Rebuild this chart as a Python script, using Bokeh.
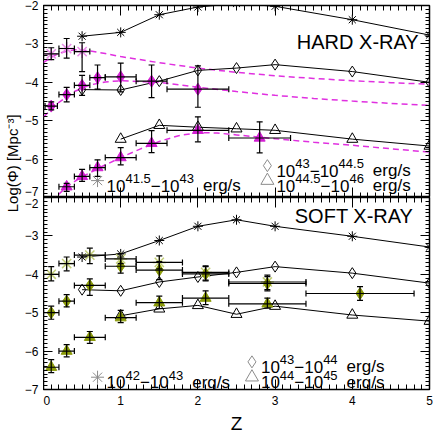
import math
from bokeh.plotting import figure
from bokeh.models import (Range1d, LinearAxis, SingleIntervalTicker, FixedTicker,
                          ColumnDataSource, Whisker, TeeHead, Label)
from bokeh.layouts import row, column
from bokeh.core.properties import value
from bokeh.embed import file_html
from bokeh.resources import INLINE

FONT = "Liberation Sans"

# ---------------- data ----------------
x_ticks = [0, 1, 2, 3, 4, 5]
y_ticks = [-7, -6, -5, -4, -3, -2]

z_mod = [0.5, 1.0, 1.5, 2.0, 2.5, 3.0, 4.0, 5.0]
z_mod_tri = [1.0, 1.5, 2.0, 2.5, 3.0, 4.0, 5.0]

hard_ast_mod = [-2.80, -2.70, -2.24, -2.04, -1.95, -2.02, -2.37, -2.77]
hard_dia_mod = [-4.19, -4.20, -3.97, -3.69, -3.63, -3.54, -3.72, -4.00]
hard_tri_mod = [-5.48, -5.12, -5.17, -5.21, -5.25, -5.48, -5.66]

soft_ast_mod = [-3.55, -3.47, -3.12, -2.75, -2.58, -2.75, -3.01, -3.29]
soft_dia_mod = [-4.40, -4.43, -4.20, -4.07, -3.95, -3.80, -3.97, -4.23]
soft_tri_mod = [-5.08, -4.90, -4.81, -5.04, -4.83, -5.06, -5.22]

# magenta dashed curves (hard X-ray panel)
lf_z = [0.0, 0.2, 0.4, 0.6, 0.8, 1.0, 1.5, 2.0, 2.5, 3.0, 3.5, 4.0, 4.5, 5.0]
lf_hi = [-3.48, -3.24, -3.15, -3.18, -3.25, -3.33, -3.49, -3.63, -3.74, -3.83, -3.90, -3.96, -4.01, -4.05]
lf_mid = [-4.90, -4.52, -4.24, -4.07, -3.99, -3.96, -4.00, -4.13, -4.24, -4.34, -4.42, -4.49, -4.55, -4.60]
lf_lo_z = [0.1, 0.3, 0.5, 0.75, 1.0, 1.25, 1.5, 1.75, 2.0, 2.25, 2.5, 3.0, 3.5, 4.0, 4.5, 5.0]
lf_lo = [-7.10, -6.72, -6.46, -6.20, -5.96, -5.74, -5.54, -5.39, -5.31, -5.32, -5.37, -5.47, -5.56, -5.64, -5.73, -5.82]

# hard X-ray data points
h_ast_z = [0.10, 0.30, 0.50]
h_ast_y = [-3.26, -3.12, -3.20]
h_ast_ylo = [-3.41, -3.37, -3.72]
h_ast_yhi = [-3.10, -2.86, -2.97]
h_ast_zlo = [0.00, 0.20, 0.40]
h_ast_zhi = [0.20, 0.40, 0.60]

h_dia_z = [0.10, 0.30, 0.50, 0.70, 1.00, 1.40, 2.00]
h_dia_y = [-4.62, -4.32, -4.08, -3.88, -3.86, -3.97, -4.18]
h_dia_ylo = [-4.72, -4.51, -4.34, -4.18, -4.25, -4.40, -4.65]
h_dia_yhi = [-4.51, -4.13, -3.82, -3.55, -3.50, -3.55, -3.57]
h_dia_zlo = [0.02, 0.20, 0.40, 0.60, 0.80, 1.20, 1.60]
h_dia_zhi = [0.18, 0.40, 0.60, 0.80, 1.20, 1.60, 2.40]

h_tri_z = [0.30, 0.50, 0.70, 1.00, 1.40, 2.00, 2.80]
h_tri_y = [-6.72, -6.45, -6.22, -5.96, -5.59, -5.25, -5.45]
h_tri_ylo = [-6.84, -6.58, -6.45, -6.15, -5.83, -5.55, -5.84]
h_tri_yhi = [-6.63, -6.27, -6.02, -5.70, -5.26, -4.90, -5.03]
h_tri_zlo = [0.20, 0.40, 0.60, 0.80, 1.20, 1.60, 2.40]
h_tri_zhi = [0.40, 0.60, 0.80, 1.20, 1.60, 2.40, 3.20]

# soft X-ray data points
s_ast_z = [0.10, 0.30, 0.60, 1.00, 1.50, 2.10, 2.90]
s_ast_y = [-4.00, -3.72, -3.50, -3.60, -3.69, -3.95, -4.20]
s_ast_ylo = [-4.17, -3.91, -3.72, -3.72, -3.86, -4.15, -4.40]
s_ast_yhi = [-3.80, -3.55, -3.32, -3.46, -3.52, -3.78, -4.02]
s_ast_zlo = [0.00, 0.20, 0.40, 0.80, 1.20, 1.80, 2.40]
s_ast_zhi = [0.20, 0.40, 0.80, 1.20, 1.80, 2.40, 3.40]

s_dia_z = [0.10, 0.30, 0.60, 1.00, 1.50, 2.10, 2.90, 4.10]
s_dia_y = [-5.00, -4.70, -4.29, -3.79, -3.89, -3.99, -4.24, -4.50]
s_dia_ylo = [-5.17, -4.85, -4.55, -3.97, -4.14, -4.17, -4.43, -4.68]
s_dia_yhi = [-4.83, -4.53, -4.12, -3.55, -3.67, -3.80, -4.06, -4.32]
s_dia_zlo = [0.00, 0.20, 0.40, 0.80, 1.20, 1.80, 2.40, 3.40]
s_dia_zhi = [0.20, 0.40, 0.80, 1.20, 1.80, 2.40, 3.40, 4.80]

s_tri_z = [0.10, 0.30, 0.60, 1.00, 1.50, 2.10, 2.90]
s_tri_y = [-6.42, -6.00, -5.64, -5.13, -4.74, -4.62, -4.77]
s_tri_ylo = [-6.56, -6.15, -5.80, -5.26, -4.89, -4.79, -4.88]
s_tri_yhi = [-6.22, -5.83, -5.49, -4.94, -4.57, -4.43, -4.62]
s_tri_zlo = [0.00, 0.20, 0.40, 0.80, 1.20, 1.80, 2.40]
s_tri_zhi = [0.20, 0.40, 0.80, 1.20, 1.80, 2.40, 3.40]

# legend texts (pieces: text, superscript?)
hard_leg = [
    ("asterisk", 0.70, -6.56, [("10", 0), ("41.5", 1), ("−10", 0), ("43", 1), ("erg/s", 0)]),
    ("diamond", 2.90, -6.17, [("10", 0), ("43", 1), ("−10", 0), ("44.5", 1), ("erg/s", 0)]),
    ("triangle", 2.90, -6.56, [("10", 0), ("44.5", 1), ("−10", 0), ("46", 1), ("erg/s", 0)]),
]
soft_leg = [
    ("asterisk", 0.70, -6.68, [("10", 0), ("42", 1), ("−10", 0), ("43", 1), ("erg/s", 0)]),
    ("diamond", 2.70, -6.28, [("10", 0), ("43", 1), ("−10", 0), ("44", 1), ("erg/s", 0)]),
    ("triangle", 2.70, -6.68, [("10", 0), ("44", 1), ("−10", 0), ("45", 1), ("erg/s", 0)]),
]

# ---------------- styling ----------------
MAG = "#d21ed2"
MAG_DASH = "#e030e0"
MAG_LIGHT = "#e88ce8"
OLV = "#8a9a08"
OLV_LIGHT = "#c4cf78"
GRAY = "#8c8c8c"

W = {'0': .556, '1': .556, '2': .556, '3': .556, '4': .556, '5': .556, '6': .556,
     '7': .556, '8': .556, '9': .556, '.': .278, '−': .584, ' ': .278,
     'e': .556, 'r': .333, 'g': .556, '/': .278, 's': .5}
MAIN_FS, SUP_FS = 17, 13
FRAME_W, FRAME_H = 386, 192
TOP_B, BOT_B = 5, 47
TOTAL_H = TOP_B + 2 * FRAME_H + BOT_B


def text_width(t, fs):
    return sum(W.get(c, 0.55) for c in t) * fs


def style_axis(ax, major_in, minor_in, ticks, loc, labels=None):
    ax.ticker = SingleIntervalTicker(interval=1, num_minor_ticks=10)
    ax.fixed_location = loc
    ax.major_tick_in = major_in
    ax.major_tick_out = 0
    ax.minor_tick_in = minor_in
    ax.minor_tick_out = 0
    ax.axis_line_color = None
    ax.major_tick_line_color = "black"
    ax.minor_tick_line_color = "black"
    ax.major_tick_line_width = 1
    ax.minor_tick_line_width = 1
    if labels is None:
        ax.major_label_text_font_size = "0px"
        ax.major_label_standoff = 0
        ax.major_label_overrides = {t: "" for t in ticks}
    else:
        ax.major_label_text_font = FONT
        ax.major_label_text_font_size = "12px"
        ax.major_label_text_color = "black"
        ax.major_label_standoff = 4
        ax.major_label_overrides = labels


def make_panel(btop, bbot, x_labels=None):
    p = figure(width=FRAME_W + 7, height=FRAME_H + btop + bbot,
               x_range=Range1d(0, 5), y_range=Range1d(-7, -2),
               x_axis_type=None, y_axis_type=None, toolbar_location=None,
               output_backend="svg", min_border_left=0, min_border_right=7,
               min_border_top=btop, min_border_bottom=bbot,
               background_fill_color="white", border_fill_color="white")
    p.outline_line_color = "black"
    p.outline_line_width = 1.5
    ax = LinearAxis()
    style_axis(ax, 10, 5, x_ticks, None if x_labels else -7, x_labels)
    p.add_layout(ax, "below")
    ax = LinearAxis()
    style_axis(ax, 10, 5, x_ticks, -2)
    p.add_layout(ax, "above")
    ax = LinearAxis()
    style_axis(ax, 9, 4, y_ticks, 0)
    p.add_layout(ax, "left")
    ax = LinearAxis()
    style_axis(ax, 9, 4, y_ticks, 5)
    p.add_layout(ax, "right")
    return p


def add_errorbars(p, z, y, ylo, yhi, zlo, zhi):
    src = ColumnDataSource(dict(z=z, y=y, ylo=ylo, yhi=yhi, zlo=zlo, zhi=zhi))
    for base, lo, hi, dim in (("z", "ylo", "yhi", "height"), ("y", "zlo", "zhi", "width")):
        w = Whisker(source=src, base=base, lower=lo, upper=hi, dimension=dim,
                    line_color="black", line_width=1.2, level="annotation",
                    lower_head=TeeHead(size=6, line_color="black", line_width=1.2),
                    upper_head=TeeHead(size=6, line_color="black", line_width=1.2))
        p.add_layout(w)


def add_models(p, ast, dia, tri):
    p.line(z_mod, ast, line_color="black", line_width=1)
    p.scatter(z_mod, ast, marker="asterisk", size=10, line_color="black", line_width=1)
    p.line(z_mod, dia, line_color="black", line_width=1)
    p.scatter(z_mod, dia, marker="diamond", size=11, fill_color=None, line_color="black", line_width=1)
    p.line(z_mod_tri, tri, line_color="black", line_width=1)
    p.scatter(z_mod_tri, tri, marker="triangle", size=11, fill_color=None, line_color="black", line_width=1)


def add_legend(p, items):
    rows = dict(x=[], y=[], xo=[], yo=[], t=[], fs=[])
    for marker, x, y, parts in items:
        if marker == "diamond":
            p.scatter([x], [y], marker="diamond", size=12, fill_color=None, line_color=GRAY, line_width=1)
        elif marker == "triangle":
            p.scatter([x], [y], marker="triangle", size=13, fill_color=None, line_color=GRAY, line_width=1)
        else:
            p.scatter([x], [y], marker="asterisk", size=13, line_color=GRAY, line_width=1)
        cur = 9.0
        for t, sup in parts:
            if t == "erg/s":
                cur += 9
            fs = SUP_FS if sup else MAIN_FS
            rows["x"].append(x)
            rows["y"].append(y)
            rows["xo"].append(cur)
            rows["yo"].append(-2 if sup else 5)
            rows["t"].append(t)
            rows["fs"].append(f"{fs}px")
            cur += text_width(t, fs)
    src = ColumnDataSource(rows)
    p.text(x="x", y="y", x_offset="xo", y_offset="yo", text="t", text_font_size="fs",
           text_font=value(FONT), text_color="black", text_baseline="alphabetic",
           text_align="left", source=src)


# ---------------- top panel (HARD X-RAY) ----------------
p1 = make_panel(TOP_B, 0)
for zz, yy in ((lf_z, lf_hi), (lf_z, lf_mid), (lf_lo_z, lf_lo)):
    p1.line(zz, yy, line_color=MAG_DASH, line_width=1.5, line_dash="6 4")
add_models(p1, hard_ast_mod, hard_dia_mod, hard_tri_mod)
p1.scatter(h_ast_z, h_ast_y, marker="asterisk", size=13, line_color=MAG_LIGHT, line_width=1.5)
p1.scatter(h_dia_z, h_dia_y, marker="diamond", size=12, fill_color=MAG, line_color=MAG)
p1.scatter(h_tri_z, h_tri_y, marker="triangle", size=11, fill_color=MAG, line_color=MAG)
add_errorbars(p1, h_ast_z, h_ast_y, h_ast_ylo, h_ast_yhi, h_ast_zlo, h_ast_zhi)
add_errorbars(p1, h_dia_z, h_dia_y, h_dia_ylo, h_dia_yhi, h_dia_zlo, h_dia_zhi)
add_errorbars(p1, h_tri_z, h_tri_y, h_tri_ylo, h_tri_yhi, h_tri_zlo, h_tri_zhi)
add_legend(p1, hard_leg)
p1.add_layout(Label(x=4.86, y=-2.96, text="HARD X-RAY", text_align="right",
                    text_baseline="alphabetic", text_font=FONT, text_font_size="20px",
                    text_color="black"))

# ---------------- bottom panel (SOFT X-RAY) ----------------
p2 = make_panel(0, BOT_B, {t: str(t) for t in x_ticks})
xb = p2.below[0]
xb.major_label_standoff = 6
xb.axis_label = "Z"
xb.axis_label_text_font = FONT
xb.axis_label_text_font_size = "19px"
xb.axis_label_text_font_style = "normal"
xb.axis_label_text_color = "black"
xb.axis_label_standoff = 5

add_models(p2, soft_ast_mod, soft_dia_mod, soft_tri_mod)
p2.scatter(s_ast_z, s_ast_y, marker="asterisk", size=13, line_color=OLV_LIGHT, line_width=1.5)
p2.scatter(s_dia_z, s_dia_y, marker="diamond", size=12, fill_color=OLV, line_color=OLV)
p2.scatter(s_tri_z, s_tri_y, marker="triangle", size=11, fill_color=OLV, line_color=OLV)
add_errorbars(p2, s_ast_z, s_ast_y, s_ast_ylo, s_ast_yhi, s_ast_zlo, s_ast_zhi)
add_errorbars(p2, s_dia_z, s_dia_y, s_dia_ylo, s_dia_yhi, s_dia_zlo, s_dia_zhi)
add_errorbars(p2, s_tri_z, s_tri_y, s_tri_ylo, s_tri_yhi, s_tri_zlo, s_tri_zhi)
add_legend(p2, soft_leg)
p2.add_layout(Label(x=4.79, y=-2.47, text="SOFT X-RAY", text_align="right",
                    text_baseline="alphabetic", text_font=FONT, text_font_size="20px",
                    text_color="black"))

# ---------------- left strip: y tick labels of both panels + y title ----------------
# both panels stacked in one coordinate: top panel as is, bottom panel shifted by -5
ppu = FRAME_H / 5.0
lf = figure(width=43, height=TOTAL_H,
            x_range=Range1d(0, 43),
            y_range=Range1d(-12 - BOT_B / ppu, -2 + TOP_B / ppu),
            x_axis_type=None, y_axis_type=None, toolbar_location=None,
            output_backend="svg", min_border=0, outline_line_color=None,
            background_fill_color="white", border_fill_color="white")
tick_pos, tick_lab = [], {}
for t in y_ticks:
    pos = t + (0.15 if t == -7 else 0.0)
    tick_pos.append(pos)
    tick_lab[pos] = "−" + str(abs(t))
for t in y_ticks:
    pos = t - 5 - (0.15 if t == -2 else 0.0)
    tick_pos.append(pos)
    tick_lab[pos] = "−" + str(abs(t))
ya = LinearAxis(ticker=FixedTicker(ticks=tick_pos, minor_ticks=[]), fixed_location=40)
ya.major_tick_in = 0
ya.major_tick_out = 0
ya.minor_tick_in = 0
ya.minor_tick_out = 0
ya.axis_line_color = None
ya.major_tick_line_color = None
ya.major_label_standoff = 2
ya.major_label_text_font = FONT
ya.major_label_text_font_size = "12px"
ya.major_label_text_color = "black"
ya.major_label_overrides = tick_lab
lf.add_layout(ya, "left")
lf.add_layout(Label(x=12, y=-6.11, text="Log(Φ) [Mpc⁻³]", angle=math.pi / 2,
                    text_align="center", text_baseline="middle", text_font=FONT,
                    text_font_size="15px", text_color="black"))

layout = row(lf, column(p1, p2))
open("out.html", "w").write(file_html(layout, INLINE))
